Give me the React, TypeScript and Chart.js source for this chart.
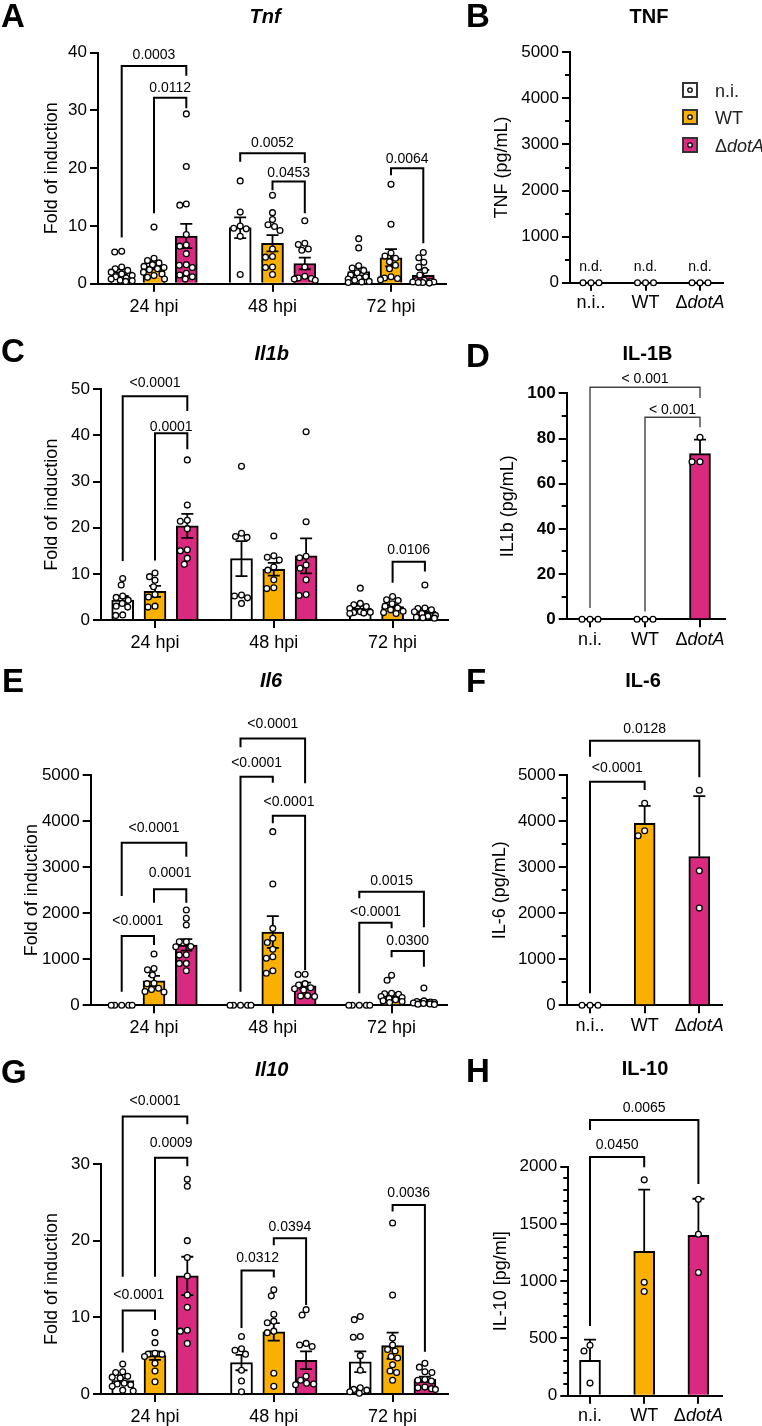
import React, { useEffect, useRef } from 'react';
import { Chart, registerables } from 'chart.js';

Chart.register(...registerables);

const FONT = "'Liberation Sans', Arial, Helvetica, sans-serif";

// ---------- categories ----------
const timepoints = ['24 hpi', '48 hpi', '72 hpi'];
const strains = ['n.i.', 'WT', 'ΔdotA'];
const elisaLabelsDots = ['n.i..', 'WT', 'ΔdotA'];
const elisaLabels = ['n.i.', 'WT', 'ΔdotA'];
const fills = ['#FFFFFF', '#F9B000', '#DA2A7F'];

// ---------- qPCR, fold of induction (rows: n.i., WT, ΔdotA; columns: 24 / 48 / 72 hpi) ----------
const tnfMean = [[2.05, 9.7, 2.1], [3.1, 7.0, 4.5], [8.25, 3.5, 1.45]];
const tnfSem = [[0.45, 1.8, 0.7], [0.6, 1.4, 1.5], [2.1, 1.0, 0.95]];
const tnfPoints = [
  [[5.6, 5.5, 2.9, 2.6, 2.3, 2.0, 1.7, 1.4, 1.2, 1.0, 0.8, 0.6, 0.5, 0.4],
   [17.8, 12.4, 10.0, 9.6, 9.5, 8.2, 1.6],
   [7.8, 6.2, 3.1, 2.7, 2.3, 1.9, 1.5, 1.2, 1.0, 0.8, 0.6, 0.4, 0.3, 0.2]],
  [[9.8, 4.4, 4.0, 3.6, 3.3, 3.0, 2.8, 2.6, 2.4, 2.0, 1.7, 1.4, 1.1, 0.8],
   [15.3, 12.3, 11.1, 10.2, 9.9, 9.2, 6.0, 4.7, 4.6, 2.9, 2.8, 1.6],
   [17.2, 10.3, 5.3, 4.8, 4.4, 3.8, 3.2, 2.6, 1.2, 1.0, 0.9, 0.7]],
  [[29.4, 20.3, 13.8, 13.6, 8.5, 6.7, 6.5, 5.2, 3.3, 3.2, 2.8, 1.8, 1.5, 1.2, 0.8],
   [10.9, 7.0, 6.8, 6.0, 5.8, 2.9, 1.3, 1.0, 0.9, 0.8, 0.6],
   [5.4, 4.5, 3.7, 2.9, 2.3, 1.5, 0.6, 0.5, 0.4, 0.3, 0.3, 0.2, 0.2, 0.1]],
];
const tnfBrackets = [
  { g: 0, a: 0, b: 2, y: 37.7, l: 8.0, r: 36.0, text: '0.0003', gap: 6.7 },
  { g: 0, a: 1, b: 2, y: 32.2, l: 12.2, r: 30.4, text: '0.0112', gap: 5.4 },
  { g: 1, a: 0, b: 2, y: 22.6, l: 21.1, r: 20.9, text: '0.0052', gap: 6 },
  { g: 1, a: 1, b: 2, y: 17.7, l: 16.2, r: 12.2, text: '0.0453', gap: 4.4 },
  { g: 2, a: 1, b: 2, y: 20.0, l: 18.8, r: 7.0, text: '0.0064', gap: 5 },
];

const il1bMean = [[4.3, 13.3, 2.6], [6.2, 11.0, 2.9], [20.4, 13.9, 1.9]];
const il1bSem = [[0.9, 3.8, 0.5], [1.2, 1.4, 0.4], [2.6, 3.8, 0.6]];
const il1bPoints = [
  [[9.0, 7.6, 5.2, 4.9, 4.3, 3.6, 3.0, 2.8, 1.1, 1.0],
   [33.3, 18.8, 18.1, 17.9, 5.4, 5.2, 4.8, 3.6],
   [6.9, 3.6, 3.3, 2.9, 2.5, 1.8, 1.7, 1.6, 1.5, 1.4]],
  [[10.2, 9.4, 8.6, 7.2, 5.5, 5.0, 3.0, 2.8],
   [18.2, 13.9, 13.6, 13.0, 11.5, 10.8, 8.7, 7.0, 6.8],
   [5.1, 4.4, 4.2, 3.5, 3.0, 2.6, 2.2, 1.9, 1.6, 1.4]],
  [[34.7, 24.9, 21.6, 21.4, 19.8, 15.2, 15.0, 13.4, 12.1],
   [40.8, 21.3, 13.8, 13.5, 11.9, 11.2, 8.7, 5.5, 5.3],
   [7.6, 2.6, 2.5, 2.2, 1.8, 1.4, 1.0, 0.8, 0.6, 0.5, 0.4]],
];
const il1bBrackets = [
  { g: 0, a: 0, b: 2, y: 48.5, l: 12.8, r: 45.3, text: '<0.0001', gap: 9.3 },
  { g: 0, a: 1, b: 2, y: 40.5, l: 12.9, r: 37.0, text: '0.0001', gap: 2 },
  { g: 2, a: 1, b: 2, y: 12.6, l: 8.1, r: 10.5, text: '0.0106', gap: 8.3 },
];

const il6Mean = [[1, 1, 1], [530, 1590, 210], [1310, 420, 80]];
const il6Sem = [[0, 0, 0], [110, 345, 55], [125, 73, 35]];
const il6Points = [
  [[1.3, 1.1, 1.0, 0.9, 0.8], [1.2, 1.1, 1.0, 0.9, 0.8], [1.2, 1.1, 1.0, 0.9, 0.8]],
  [[1114, 800, 770, 660, 480, 470, 370, 345, 300, 290],
   [3770, 2635, 1670, 1455, 1365, 1215, 1055, 1020, 750, 695],
   [650, 545, 260, 250, 240, 190, 170, 150, 120, 100, 80, 60]],
  [[2070, 1890, 1745, 1380, 1380, 1275, 1270, 1095, 1090, 910, 910, 750],
   [675, 670, 470, 440, 380, 360, 330, 210, 200, 190],
   [375, 95, 80, 70, 60, 50, 40, 30, 25, 20]],
];
const il6Brackets = [
  { g: 0, a: 0, b: 2, y: 3530, l: 2372, r: 3225, text: '<0.0001', gap: 10.4 },
  { g: 0, a: 1, b: 2, y: 2518, l: 2227, r: 2227, text: '0.0001', gap: 12 },
  { g: 0, a: 0, b: 1, y: 1504, l: 296, r: 1309, text: '<0.0001', gap: 11 },
  { g: 1, a: 0, b: 2, y: 5795, l: 5600, r: 4819, text: '<0.0001', gap: 10 },
  { g: 1, a: 0, b: 1, y: 4962, l: 296, r: 4832, text: '<0.0001', gap: 9.4 },
  { g: 1, a: 1, b: 2, y: 4116, l: 3950, r: 766, text: '<0.0001', gap: 10 },
  { g: 2, a: 0, b: 2, y: 2466, l: 2322, r: 1693, text: '0.0015', gap: 6.7 },
  { g: 2, a: 0, b: 1, y: 1793, l: 260, r: 1671, text: '<0.0001', gap: 6.7 },
  { g: 2, a: 1, b: 2, y: 1179, l: 1042, r: 838, text: '0.0300', gap: 6 },
];

const il10Mean = [[1.75, 4.1, 4.2], [5.0, 8.1, 6.3], [15.4, 4.4, 1.9]];
const il10Sem = [[0.3, 1.0, 1.35], [0.55, 1.15, 1.7], [2.5, 1.15, 0.35]];
const il10Points = [
  [[3.9, 2.9, 2.8, 2.3, 2.2, 2.1, 1.4, 1.3, 1.2, 1.0, 0.5, 0.4],
   [7.5, 5.9, 5.7, 5.2, 3.1, 1.7, 0.3],
   [10.1, 9.7, 7.5, 7.4, 5.0, 3.1, 0.8, 0.6, 0.5, 0.3, 0.1]],
  [[8.0, 6.7, 5.3, 5.2, 5.2, 4.9, 4.0, 3.0, 1.6],
   [13.6, 12.8, 10.4, 9.5, 9.3, 8.2, 8.0, 2.7, 1.0],
   [22.3, 12.9, 7.3, 6.4, 5.8, 5.6, 4.9, 4.7, 3.8, 3.0, 2.8, 1.8]],
  [[28.0, 27.1, 20.0, 17.8, 15.4, 12.9, 11.3, 8.3, 8.2, 6.6],
   [11.0, 10.3, 6.6, 6.4, 6.2, 2.3, 1.8, 1.4, 1.3, 1.2],
   [4.0, 3.5, 2.9, 2.8, 1.9, 1.8, 1.7, 0.9, 0.8, 0.7, 0.6]],
];
const il10Brackets = [
  { g: 0, a: 0, b: 2, y: 36.2, l: 15.3, r: 35.2, text: '<0.0001', gap: 11.7 },
  { g: 0, a: 1, b: 2, y: 30.8, l: 15.3, r: 29.7, text: '0.0009', gap: 11 },
  { g: 0, a: 0, b: 1, y: 10.9, l: 5.4, r: 9.65, text: '<0.0001', gap: 11.4 },
  { g: 1, a: 0, b: 1, y: 16.1, l: 8.6, r: 15.2, text: '0.0312', gap: 8.4 },
  { g: 1, a: 1, b: 2, y: 20.3, l: 19.4, r: 11.6, text: '0.0394', gap: 7.3 },
  { g: 2, a: 1, b: 2, y: 24.65, l: 23.8, r: 5.5, text: '0.0036', gap: 8.3 },
];

// ---------- ELISA, pg/mL (n.i., WT, ΔdotA; mean ± SD) ----------
const tnfElisaMean = [0, 0, 0];
const tnfElisaSd = [0, 0, 0];
const tnfElisaPoints = [[0, 0, 0], [0, 0, 0], [0, 0, 0]];
const tnfElisaNotes = ['n.d.', 'n.d.', 'n.d.'];

const il1bElisaMean = [0, 0, 73.3];
const il1bElisaSd = [0, 0, 6.2];
const il1bElisaPoints = [[0, 0, 0], [0, 0, 0], [80.5, 69.7, 69.7]];
const il1bElisaBrackets = [
  { a: 0, b: 2, y: 102.7, l: 5.0, r: 97.9, text: '< 0.001', gap: 4 },
  { a: 1, b: 2, y: 89.4, l: 3.4, r: 85.0, text: '< 0.001', gap: 3.3 },
];

const il6ElisaMean = [0, 3950, 3230];
const il6ElisaSd = [0, 380, 1310];
const il6ElisaPoints = [[0, 0, 0], [4385, 3790, 3680], [4670, 2920, 2110]];
const il6ElisaBrackets = [
  { a: 0, b: 2, y: 5744, l: 5397, r: 4949, text: '0.0128', gap: 7.4 },
  { a: 0, b: 1, y: 4854, l: 260, r: 4673, text: '<0.0001', gap: 9.4 },
];

const il10ElisaMean = [310, 1260, 1400];
const il10ElisaSd = [180, 540, 320];
const il10ElisaPoints = [[440, 390, 110], [1885, 990, 910], [1715, 1410, 1075]];
const il10ElisaBrackets = [
  { a: 0, b: 2, y: 2408, l: 2320, r: 1849, text: '0.0065', gap: 8.3 },
  { a: 0, b: 1, y: 2085, l: 609, r: 1995, text: '0.0450', gap: 8 },
];

// ---------- panel layout ----------
const leftCommon = {
  grouped: true, barW: 22, barGap: 32.3, spread: 10.5, dotGap: 6.6, xLabelDy: 28,
  yTitle: 'Fold of induction', bracketWidth: 2, bracketColor: '#000',
};
const rightCommon = {
  grouped: false, barW: 21, spread: 12, dotGap: 8, xLabelDy: 25.7,
  bracketWidth: 2, bracketColor: '#000',
};

const panels: any[] = [
  {
    ...leftCommon, key: 'A', box: [0, 0, 460, 330], area: [98, 52.7, 446, 283.7], c0: 154, step: 118.5,
    yMax: 40, yStep: 10, yTitleX: 52, letter: 'A', letterXY: [1, 27], title: 'Tnf', italic: true, titleXY: [265, 23.3],
    xLabels: timepoints, means: tnfMean, errs: tnfSem, points: tnfPoints, brackets: tnfBrackets,
  },
  {
    ...rightCommon, key: 'B', box: [440, 0, 322, 330], area: [570, 52.3, 723, 282.7], c0: 591, step: 54.5,
    yMax: 5000, yStep: 1000, yMinor: 500, yTitle: 'TNF (pg/mL)', yTitleX: 501.7, letter: 'B', letterXY: [466, 27],
    title: 'TNF', italic: false, titleXY: [649, 23.3], xLabels: elisaLabelsDots,
    means: tnfElisaMean, errs: tnfElisaSd, points: tnfElisaPoints, brackets: [], notes: tnfElisaNotes, notesY: 271,
    legend: strains,
  },
  {
    ...leftCommon, key: 'C', box: [0, 325, 460, 330], area: [101, 389.3, 448, 620], c0: 155, step: 118.8,
    yMax: 50, yStep: 10, yTitleX: 52, letter: 'C', letterXY: [1, 362], title: 'Il1b', italic: true, titleXY: [271.7, 360],
    xLabels: timepoints, means: il1bMean, errs: il1bSem, points: il1bPoints, brackets: il1bBrackets,
  },
  {
    ...rightCommon, key: 'D', box: [440, 325, 322, 330], area: [566.7, 393.3, 725, 619.3], c0: 590, step: 55,
    yMax: 100, yStep: 20, yMinor: 10, tickBold: true, yTitle: 'IL1b (pg/mL)', yTitleX: 508, letter: 'D', letterXY: [466, 367],
    title: 'IL-1B', italic: false, titleXY: [647.5, 360], xLabels: elisaLabels,
    means: il1bElisaMean, errs: il1bElisaSd, points: il1bElisaPoints, brackets: il1bElisaBrackets,
    bracketWidth: 1.4, bracketColor: '#444',
  },
  {
    ...leftCommon, key: 'E', box: [0, 655, 460, 390], area: [90.7, 775, 446.7, 1005.3], c0: 154, step: 118.8,
    yMax: 5000, yStep: 1000, yTitleX: 32, letter: 'E', letterXY: [2, 692], title: 'Il6', italic: true, titleXY: [271, 687.3],
    xLabels: timepoints, means: il6Mean, errs: il6Sem, points: il6Points, brackets: il6Brackets,
  },
  {
    ...rightCommon, key: 'F', box: [440, 655, 322, 390], area: [566.7, 775, 721.7, 1005.3], c0: 590, step: 54.65,
    yMax: 5000, yStep: 1000, yMinor: 500, yTitle: 'IL-6 (pg/mL)', yTitleX: 500, letter: 'F', letterXY: [466, 692],
    title: 'IL-6', italic: false, titleXY: [643, 687], xLabels: elisaLabelsDots,
    means: il6ElisaMean, errs: il6ElisaSd, points: il6ElisaPoints, brackets: il6ElisaBrackets,
  },
  {
    ...leftCommon, key: 'G', box: [0, 1030, 460, 396], area: [101, 1164, 448, 1394], c0: 155, step: 118.8,
    yMax: 30, yStep: 10, yTitleX: 52, letter: 'G', letterXY: [1, 1083], title: 'Il10', italic: true, titleXY: [271.7, 1076],
    xLabels: timepoints, means: il10Mean, errs: il10Sem, points: il10Points, brackets: il10Brackets,
  },
  {
    ...rightCommon, key: 'H', box: [440, 1030, 322, 396], area: [568.3, 1166.7, 721.7, 1395.7], c0: 590, step: 54.2,
    yMax: 2000, yStep: 500, yMinor: 100, yTitle: 'IL-10 [pg/ml]', yTitleX: 501, letter: 'H', letterXY: [466, 1082],
    title: 'IL-10', italic: false, titleXY: [645, 1075], xLabels: elisaLabels,
    means: il10ElisaMean, errs: il10ElisaSd, points: il10ElisaPoints, brackets: il10ElisaBrackets,
  },
];

// ---------- helpers ----------
function barX(cfg: any, g: number | undefined, s: number) {
  if (cfg.grouped) return (g as number) + (s - 1) * (cfg.barGap / cfg.step);
  return s;
}

function barItems(cfg: any) {
  const out: any[] = [];
  if (cfg.grouped) {
    cfg.means.forEach((row: number[], s: number) =>
      row.forEach((m: number, g: number) =>
        out.push({ s, x: barX(cfg, g, s), mean: m, err: cfg.errs[s][g], pts: cfg.points[s][g], color: fills[s] })));
  } else {
    cfg.means.forEach((m: number, i: number) =>
      out.push({ s: i, x: i, mean: m, err: cfg.errs[i], pts: cfg.points[i], color: fills[i] }));
  }
  return out;
}

// beeswarm: keep each dot as close to the bar centre as possible without overlapping
function swarm(ys: number[], cx: number, spread: number, d: number) {
  const placed: { x: number; y: number }[] = [];
  const steps = Math.ceil(spread / 0.5);
  for (const y of ys) {
    let best = cx;
    let bestCost = Infinity;
    for (let k = 0; k <= 2 * steps; k++) {
      const off = (k % 2 === 1 ? -1 : 1) * Math.ceil(k / 2) * 0.5;
      if (Math.abs(off) > spread) continue;
      const x = cx + off;
      let cost = 0;
      for (const p of placed) {
        const dist = Math.hypot(p.x - x, p.y - y);
        if (dist < d) cost += d - dist;
      }
      if (cost === 0) { best = x; bestCost = 0; break; }
      if (cost < bestCost - 1e-9) { bestCost = cost; best = x; }
    }
    placed.push({ x: best, y });
  }
  return placed.map((p) => p.x);
}

function drawRich(ctx: CanvasRenderingContext2D, text: string, x: number, baseline: number, size: number, align: 'center' | 'left') {
  const parts: [string, boolean][] = text.startsWith('Δ') ? [['Δ', false], [text.slice(1), true]] : [[text, false]];
  const fontOf = (it: boolean) => `${it ? 'italic ' : ''}${size}px ${FONT}`;
  let total = 0;
  const widths = parts.map(([t, it]) => {
    ctx.font = fontOf(it);
    const w = ctx.measureText(t).width;
    total += w;
    return w;
  });
  let cx = align === 'center' ? x - total / 2 : x;
  ctx.textAlign = 'left';
  ctx.textBaseline = 'alphabetic';
  parts.forEach(([t, it], i) => {
    ctx.font = fontOf(it);
    ctx.fillText(t, cx, baseline);
    cx += widths[i];
  });
}

function overlay(cfg: any, bars: any[]) {
  return {
    id: 'panelOverlay',
    afterDraw(chart: any) {
      const ctx: CanvasRenderingContext2D = chart.ctx;
      const area = chart.chartArea;
      const xs = chart.scales.x;
      const ys = chart.scales.y;
      const X = (v: number) => xs.getPixelForValue(v);
      const Y = (v: number) => ys.getPixelForValue(v);
      const [L, T] = cfg.box;
      ctx.save();
      ctx.strokeStyle = '#000';
      ctx.fillStyle = '#000';
      ctx.lineJoin = 'miter';

      // minor ticks on the value axis
      if (cfg.yMinor) {
        ctx.lineWidth = 2;
        for (let v = cfg.yMinor; v < cfg.yMax; v += cfg.yMinor) {
          const r = v / cfg.yStep;
          if (Math.abs(r - Math.round(r)) < 1e-6) continue;
          const y = Math.round(Y(v));
          ctx.beginPath();
          ctx.moveTo(area.left - 5, y);
          ctx.lineTo(area.left, y);
          ctx.stroke();
        }
      }

      // error bars
      ctx.lineWidth = 1.8;
      const cap = 6;
      for (const b of bars) {
        if (!b.err) continue;
        const x = X(b.x);
        const top = Y(b.mean + b.err);
        const bot = cfg.grouped ? Y(Math.max(0, b.mean - b.err)) : Y(b.mean);
        ctx.beginPath();
        ctx.moveTo(x, bot);
        ctx.lineTo(x, top);
        ctx.moveTo(x - cap, top);
        ctx.lineTo(x + cap, top);
        if (cfg.grouped) {
          ctx.moveTo(x - cap, bot);
          ctx.lineTo(x + cap, bot);
        }
        ctx.stroke();
      }

      // individual replicates
      for (const b of bars) {
        const cx = X(b.x);
        const yp = b.pts.map((v: number) => Y(v));
        const xp = swarm(yp, cx, cfg.spread, cfg.dotGap);
        ctx.lineWidth = 1.3;
        yp.forEach((y: number, i: number) => {
          ctx.beginPath();
          ctx.arc(xp[i], y, 2.9, 0, Math.PI * 2);
          ctx.fillStyle = '#fff';
          ctx.fill();
          ctx.strokeStyle = '#000';
          ctx.stroke();
        });
      }

      // significance brackets
      for (const br of cfg.brackets) {
        const xa = X(barX(cfg, br.g, br.a));
        const xb = X(barX(cfg, br.g, br.b));
        const y = Y(br.y);
        ctx.lineWidth = cfg.bracketWidth;
        ctx.strokeStyle = cfg.bracketColor;
        ctx.beginPath();
        ctx.moveTo(xa, Y(br.l));
        ctx.lineTo(xa, y);
        ctx.lineTo(xb, y);
        ctx.lineTo(xb, Y(br.r));
        ctx.stroke();
        ctx.fillStyle = '#000';
        ctx.font = `14px ${FONT}`;
        ctx.textAlign = 'center';
        ctx.textBaseline = 'alphabetic';
        ctx.fillText(br.text, (xa + xb) / 2, y - br.gap);
      }

      // "not detected" notes
      if (cfg.notes) {
        ctx.fillStyle = '#000';
        ctx.font = `14px ${FONT}`;
        ctx.textAlign = 'center';
        ctx.textBaseline = 'alphabetic';
        cfg.notes.forEach((t: string, i: number) => ctx.fillText(t, X(i), cfg.notesY - T));
      }

      // category labels under the x axis
      ctx.fillStyle = '#000';
      cfg.xLabels.forEach((t: string, i: number) => drawRich(ctx, t, X(i), area.bottom + cfg.xLabelDy, 18, 'center'));

      // panel letter and title
      ctx.font = `bold 33px ${FONT}`;
      ctx.textAlign = 'left';
      ctx.textBaseline = 'alphabetic';
      ctx.fillText(cfg.letter, cfg.letterXY[0] - L, cfg.letterXY[1] - T);
      ctx.font = `${cfg.italic ? 'italic ' : ''}bold 20px ${FONT}`;
      ctx.textAlign = 'center';
      ctx.fillText(cfg.title, cfg.titleXY[0] - L, cfg.titleXY[1] - T);

      // legend
      if (cfg.legend) {
        const rows = [90, 117, 145];
        cfg.legend.forEach((name: string, i: number) => {
          const cy = rows[i] - T;
          const sx = 682 - L;
          ctx.fillStyle = fills[i];
          ctx.fillRect(sx, cy - 8, 16, 16);
          ctx.lineWidth = 2;
          ctx.strokeStyle = '#333';
          ctx.strokeRect(sx + 1, cy - 7, 14, 14);
          ctx.beginPath();
          ctx.arc(sx + 8, cy, 2.2, 0, Math.PI * 2);
          ctx.fillStyle = '#fff';
          ctx.fill();
          ctx.lineWidth = 1.3;
          ctx.strokeStyle = '#000';
          ctx.stroke();
          ctx.fillStyle = '#222';
          drawRich(ctx, name, 715 - L, cy + 6.5, 18, 'left');
        });
      }
      ctx.restore();
    },
  };
}

function buildConfig(cfg: any) {
  const [L, T, W, H] = cfg.box;
  const [al, at, ar, ab] = cfg.area;
  const bars = barItems(cfg);
  const datasets: any[] = [];
  if (cfg.grouped) {
    for (let s = 0; s < 3; s++) {
      datasets.push({
        label: strains[s],
        data: bars.filter((b) => b.s === s).map((b) => ({ x: b.x, y: b.mean })),
        backgroundColor: fills[s],
      });
    }
  } else {
    datasets.push({
      label: cfg.title,
      data: bars.map((b) => ({ x: b.x, y: b.mean })),
      backgroundColor: bars.map((b) => b.color),
    });
  }
  datasets.forEach((d) => Object.assign(d, {
    borderColor: '#000', borderWidth: 2, borderSkipped: 'start', barThickness: cfg.barW, grouped: false,
  }));
  const gridOpts = { display: true, drawOnChartArea: false, drawTicks: true, tickLength: 8, lineWidth: 2, color: '#000', offset: false };
  const borderOpts = { display: true, width: 2, color: '#000' };
  return {
    type: 'bar',
    data: { datasets },
    options: {
      animation: false,
      responsive: false,
      maintainAspectRatio: false,
      devicePixelRatio: 1,
      events: [],
      layout: { padding: { left: 0, top: at - T, right: L + W - ar, bottom: 0 } },
      plugins: { legend: { display: false }, tooltip: { enabled: false }, title: { display: false } },
      scales: {
        x: {
          type: 'linear',
          offset: false,
          z: 1,
          min: (al - cfg.c0) / cfg.step,
          max: (ar - cfg.c0) / cfg.step,
          afterBuildTicks: (s: any) => { s.ticks = cfg.xLabels.map((_: string, i: number) => ({ value: i })); },
          afterFit: (s: any) => { s.height = T + H - ab; },
          ticks: { display: false },
          grid: gridOpts,
          border: borderOpts,
        },
        y: {
          type: 'linear',
          z: 1,
          min: 0,
          max: cfg.yMax,
          afterFit: (s: any) => { s.width = al - L; },
          ticks: {
            stepSize: cfg.yStep,
            color: '#000',
            padding: 3,
            font: { family: FONT, size: 17, weight: cfg.tickBold ? 'bold' : 'normal' },
            callback: (v: any) => String(v),
          },
          grid: gridOpts,
          border: borderOpts,
          title: {
            display: true,
            text: cfg.yTitle,
            color: '#000',
            font: { family: FONT, size: 18 },
            padding: { top: cfg.yTitleX - L - 10.8, bottom: 0 },
          },
        },
      },
    },
    plugins: [overlay(cfg, bars)],
  };
}

function Panel({ cfg }: { cfg: any }) {
  const ref = useRef<HTMLCanvasElement>(null);
  useEffect(() => {
    const chart = new Chart(ref.current as HTMLCanvasElement, buildConfig(cfg) as any);
    return () => chart.destroy();
  }, [cfg]);
  const [L, T, W, H] = cfg.box;
  return (
    <canvas
      ref={ref}
      width={W}
      height={H}
      style={{ position: 'absolute', left: L, top: T, width: W, height: H }}
    />
  );
}

export default function App() {
  return (
    <div style={{ position: 'absolute', left: 0, top: 0, width: 762, height: 1426, background: '#fff', overflow: 'hidden' }}>
      {panels.map((p) => <Panel key={p.key} cfg={p} />)}
    </div>
  );
}
